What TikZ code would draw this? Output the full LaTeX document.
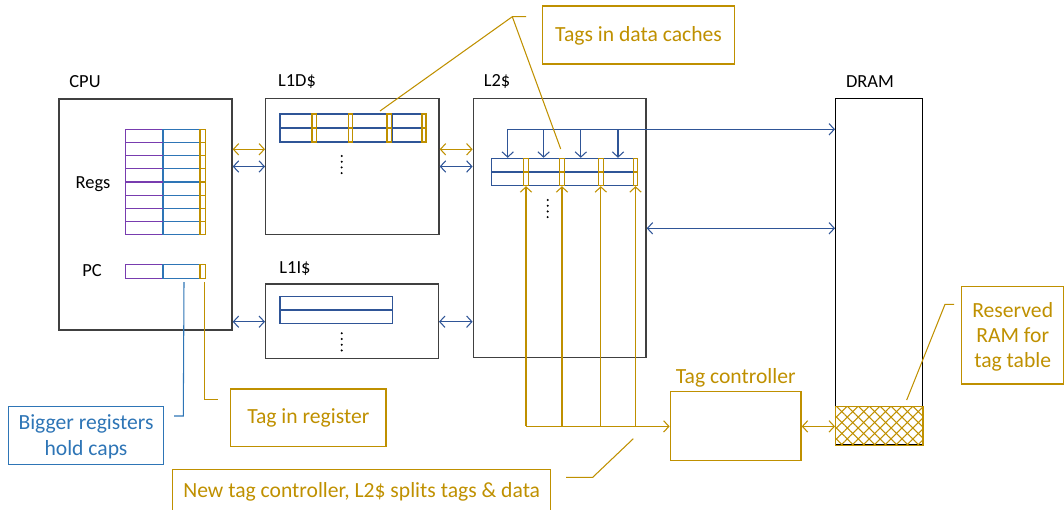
\documentclass[tikz,border=0pt]{standalone}
\usepackage{fontspec}
\setmainfont{Carlito}
\usetikzlibrary{arrows.meta,fit,patterns.meta}
\definecolor{gold}{RGB}{191,144,0}
\definecolor{dblue}{RGB}{47,85,151}
\definecolor{mblue}{RGB}{46,117,182}
\definecolor{purp}{RGB}{120,60,175}
\definecolor{bgray}{RGB}{64,64,64}
\begin{document}
\begin{tikzpicture}[x=0.02cm,y=-0.02cm,
  >={Straight Barb[length=3pt,width=6.5pt]},
  unitbox/.style={draw=bgray,line width=0.8pt,inner sep=0pt},
  goldbox/.style={draw=gold,line width=0.8pt,inner sep=0pt},
  bluebox/.style={draw=mblue,line width=0.8pt,inner sep=0pt},
  goldtxt/.style={inner sep=0pt,text=gold,font=\fontsize{12.3}{14.5}\selectfont,align=center},
  bluetxt/.style={inner sep=0pt,text=mblue,font=\fontsize{12.3}{14.8}\selectfont,align=center},
  lbl/.style={font=\fontsize{10.5}{12}\selectfont,inner sep=0pt},
  glink/.style={draw=gold,line width=0.6pt},
  blink/.style={draw=dblue,line width=0.6pt},
  tagcell/.style={draw=gold,line width=0.6pt,fill=white},
  dotmark/.style={fill=black}
]
\useasboundingbox (0,0) rectangle (1064,510);

% ---------- main boxes ----------
\node[unitbox,fit={(59,99)(232,330)}] (cpu) {};
\node[unitbox,fit={(265.7,98.3)(439,234.3)}] (l1d) {};
\node[unitbox,fit={(265.7,284)(438.3,358.3)}] (l1i) {};
\node[unitbox,fit={(473.3,98.3)(646,357.7)}] (l2) {};
\node[draw=black,line width=0.8pt,inner sep=0pt,fit={(835.7,98.3)(922.7,445)}] (dram) {};
\node[draw=gold,line width=0.8pt,inner sep=0pt,fit={(670.3,391.7)(801,460.7)}] (tagc) {};

% ---------- labels ----------
\node[lbl] (cpuL) at (85,82) {CPU};
\node[lbl] (l1dL) at (297,82) {L1D\$};
\node[lbl] (l2L) at (497,82) {L2\$};
\node[lbl] (dramL) at (870,82) {DRAM};
\node[lbl] (regsL) at (93,184) {Regs};
\node[lbl] (pcL) at (92,271) {PC};
\node[lbl] (l1iL) at (295,269) {L1I\$};
\node[goldtxt] (tagcL) at (735.7,377.5) {Tag controller};

% ---------- register file ----------
\draw[purp,line width=0.6pt] (125.7,129.3) rectangle (163,234.7);
\draw[mblue,line width=0.6pt] (163,129.3) rectangle (200,234.7);
\foreach \yy in {142.5,155.6,168.8,182,195.2,208.3,221.5} {
  \draw[purp,line width=0.6pt] (125.7,\yy) -- (163,\yy);
  \draw[mblue,line width=0.6pt] (163,\yy) -- (200,\yy);
  \draw[gold,line width=0.6pt] (200,\yy) -- (205.3,\yy);
}
\draw[gold,line width=0.6pt] (200,129.3) rectangle (205.3,234.7);
% PC
\draw[purp,line width=0.6pt] (125.7,264.3) rectangle (163,278.3);
\draw[mblue,line width=0.6pt] (163,264.3) rectangle (200,278.3);
\draw[gold,line width=0.6pt] (200,264.3) rectangle (205.3,278.3);
\coordinate (pcblue) at (184,282);
\coordinate (pcgold) at (204.5,282);

% ---------- L1D cache line ----------
\draw[dblue,line width=0.7pt] (280,114) rectangle (426,142);
\draw[dblue,line width=0.7pt] (280,128) -- (426,128);
\draw[dblue,line width=0.7pt] (392.3,114) -- (392.3,142);
\foreach \xa/\xb in {312/316.7,348.3/352.3,387/391.7,422/426} {
  \draw[tagcell] (\xa,114) rectangle (\xb,142);
  \draw[gold,line width=0.6pt] (\xa,128) -- (\xb,128);
}
\coordinate (l1dtag) at (380,111);
\foreach \d in {0,1,2,3} \fill[dotmark] (341.7,{156+5.7*\d}) circle (0.65pt);

% ---------- L1I cache line ----------
\draw[dblue,line width=0.7pt] (280,296.7) rectangle (392.3,323.7);
\draw[dblue,line width=0.7pt] (280,310) -- (392.3,310);
\foreach \d in {0,1,2,3} \fill[dotmark] (341.7,{333.3+5.7*\d}) circle (0.65pt);

% ---------- L2 cache line ----------
\draw[dblue,line width=0.7pt] (491.7,158.3) rectangle (637.7,185.7);
\draw[dblue,line width=0.7pt] (491.7,172) -- (637.7,172);
\draw[dblue,line width=0.7pt] (603.8,158.3) -- (603.8,185.7);
\foreach \xa/\xb in {523.3/528.7,559.3/564.7,598.3/603.3,633.3/637.7} {
  \draw[tagcell] (\xa,158.3) rectangle (\xb,185.7);
  \draw[gold,line width=0.6pt] (\xa,172) -- (\xb,172);
}
\coordinate (l2tag) at (560.7,149);
\foreach \d in {0,1,2,3} \fill[dotmark] (547.7,{200+5.7*\d}) circle (0.65pt);

% ---------- reserved RAM hatch ----------
\node[inner sep=0pt,fit={(835.7,406.7)(922.7,445)}] (resv) {};
\fill[pattern={Lines[angle=45,distance=4.4pt,line width=0.6pt]},pattern color=gold] (resv.north west) rectangle (resv.south east);
\fill[pattern={Lines[angle=-45,distance=4.4pt,line width=0.6pt]},pattern color=gold] (resv.north west) rectangle (resv.south east);
\draw[gold,line width=0.9pt] (resv.north west) rectangle (resv.south east);

% ---------- level coordinates ----------
\coordinate (ya) at (0,149.3);
\coordinate (yb) at (0,166.5);
\coordinate (yc) at (0,321.7);
\coordinate (yd) at (0,228.3);
\coordinate (ybus) at (0,129.3);
\coordinate (ytc) at (0,426.4);

% ---------- connectors between units ----------
\draw[glink,<->] (cpu.east |- ya) -- (l1d.west |- ya);
\draw[blink,<->] (cpu.east |- yb) -- (l1d.west |- yb);
\draw[glink,<->] (l1d.east |- ya) -- (l2.west |- ya);
\draw[blink,<->] (l1d.east |- yb) -- (l2.west |- yb);
\draw[blink,<->] (cpu.east |- yc) -- (l1i.west |- yc);
\draw[blink,<->] (l1i.east |- yc) -- (l2.west |- yc);
\draw[blink,<->] (l2.east |- yd) -- (dram.west |- yd);
\draw[glink,<->] (tagc.east |- ytc) -- (dram.west |- ytc);

% bus from DRAM into L2 line
\coordinate (b1) at (507.7,129.3);
\coordinate (b2) at (543.6,129.3);
\coordinate (b3) at (580.8,129.3);
\coordinate (b4) at (618,129.3);
\draw[blink,->] (b1) -- (dram.west |- ybus);
\foreach \b in {b1,b2,b3,b4} \draw[blink,->] (\b) -- (\b |- 0,157.8);

% tag lines from tag controller into L2 tags
\coordinate (t1) at (526,426.4);
\coordinate (t2) at (562,426.4);
\coordinate (t3) at (600.8,426.4);
\coordinate (t4) at (635.5,426.4);
\draw[glink,->] (t1) -- (tagc.west |- ytc);
\foreach \t in {t1,t2,t3,t4} \draw[glink,->] (\t) -- (\t |- 0,186.2);

% ---------- callout boxes ----------
\node[goldbox,fit={(542.3,6)(734.7,64)}] (tagsdc) {};
\node[goldtxt] (tagsdcT) at (638.5,36) {Tags in data caches};
\node[goldbox,fit={(961.7,286.7)(1063.4,384)}] (resvL) {};
\node[goldtxt,font=\fontsize{12.3}{14.2}\selectfont] (resvT) at (1012.7,336.5) {Reserved\\RAM for\\tag table};
\node[goldbox,fit={(230.7,389)(386,446.7)}] (tagreg) {};
\node[goldtxt] (tagregT) at (308.3,418) {Tag in register};
\node[bluebox,fit={(8.3,406.7)(163.3,464.3)}] (bigreg) {};
\node[bluetxt] (bigregT) at (86,436.5) {Bigger registers\\hold caps};
\node[goldbox,fit={(172.7,469.3)(550.7,513)}] (newtc) {};
\node[goldtxt] (newtcT) at (361.7,491.7) {New tag controller, L2\$ splits tags \& data};

% ---------- leader lines ----------
\coordinate (k1) at (512.3,16.7);
\draw[glink] (l1dtag) -- (k1) -- (526,16.7);
\draw[glink] (l2tag) -- (k1);
\coordinate (k2) at (945,304.3);
\coordinate (rs) at (906.7,400);
\draw[glink] (rs) -- (k2) -- (954,304.3);
\coordinate (k3) at (592.7,477.3);
\draw[glink] (633.3,438.7) -- (k3) -- (566,477.3);
\coordinate (k4) at (183.3,416);
\draw[draw=mblue,line width=0.6pt] (pcblue) -- (k4) -- (174,416);
\coordinate (k5) at (204.5,399.3);
\draw[glink] (pcgold) -- (k5) -- (218.3,399.3);
\end{tikzpicture}
\end{document}
